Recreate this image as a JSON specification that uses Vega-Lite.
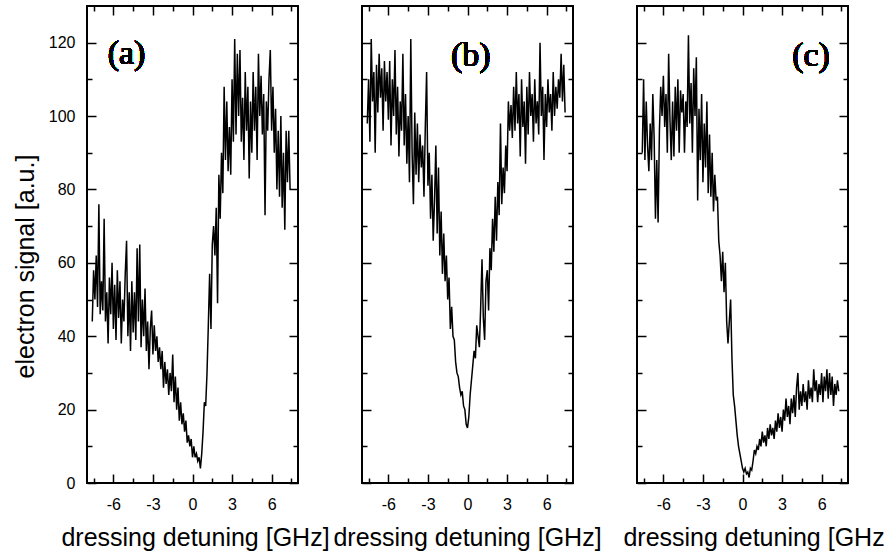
{
  "$schema": "https://vega.github.io/schema/vega-lite/v6.json",
  "autosize": {"type": "none"},
  "padding": {"left": 87, "top": 6, "right": 797, "bottom": 545},
  "background": "white",
  "config": {
    "view": {"stroke": "black", "strokeWidth": 2},
    "axis": {"domain": false, "grid": false, "tickColor": "black", "tickWidth": 1.5, "labelColor": "black", "labelFont": "Liberation Sans", "labelFontSize": 16, "titleColor": "black", "titleFont": "Liberation Sans", "titleFontSize": 25, "titleFontWeight": "normal", "labelOverlap": false, "labelFlush": false}
  },
  "spacing": 64,
  "bounds": "flush",
  "datasets": {
    "a": [
      {"x": -7.6, "y": 44}, {"x": -7.5, "y": 58}, {"x": -7.4, "y": 50}, {"x": -7.3, "y": 62}, {"x": -7.2, "y": 48}, {"x": -7.1, "y": 76}, {"x": -7.0, "y": 46}, {"x": -6.9, "y": 55}, {"x": -6.8, "y": 47}, {"x": -6.7, "y": 72},
      {"x": -6.6, "y": 44}, {"x": -6.5, "y": 52}, {"x": -6.4, "y": 38}, {"x": -6.3, "y": 56}, {"x": -6.2, "y": 46}, {"x": -6.1, "y": 60}, {"x": -6.0, "y": 42}, {"x": -5.9, "y": 54}, {"x": -5.8, "y": 39}, {"x": -5.7, "y": 58},
      {"x": -5.6, "y": 45}, {"x": -5.5, "y": 55}, {"x": -5.4, "y": 38}, {"x": -5.3, "y": 50}, {"x": -5.2, "y": 44}, {"x": -5.1, "y": 57}, {"x": -5.0, "y": 66}, {"x": -4.9, "y": 40}, {"x": -4.8, "y": 52}, {"x": -4.7, "y": 36},
      {"x": -4.6, "y": 55}, {"x": -4.5, "y": 41}, {"x": -4.4, "y": 52}, {"x": -4.3, "y": 39}, {"x": -4.2, "y": 64}, {"x": -4.1, "y": 44}, {"x": -4.0, "y": 65}, {"x": -3.9, "y": 37}, {"x": -3.8, "y": 50}, {"x": -3.7, "y": 40},
      {"x": -3.6, "y": 53}, {"x": -3.5, "y": 36}, {"x": -3.4, "y": 44}, {"x": -3.3, "y": 31}, {"x": -3.2, "y": 42}, {"x": -3.1, "y": 47}, {"x": -3.0, "y": 35}, {"x": -2.9, "y": 43}, {"x": -2.8, "y": 36}, {"x": -2.7, "y": 40},
      {"x": -2.6, "y": 33}, {"x": -2.5, "y": 37}, {"x": -2.4, "y": 31}, {"x": -2.3, "y": 36}, {"x": -2.2, "y": 26}, {"x": -2.1, "y": 33}, {"x": -2.0, "y": 27}, {"x": -1.9, "y": 31}, {"x": -1.8, "y": 24}, {"x": -1.7, "y": 30},
      {"x": -1.6, "y": 25}, {"x": -1.5, "y": 35}, {"x": -1.4, "y": 22}, {"x": -1.3, "y": 29}, {"x": -1.2, "y": 20}, {"x": -1.1, "y": 26}, {"x": -1.0, "y": 17}, {"x": -0.9, "y": 22}, {"x": -0.8, "y": 16}, {"x": -0.7, "y": 19},
      {"x": -0.6, "y": 14}, {"x": -0.5, "y": 17}, {"x": -0.4, "y": 11}, {"x": -0.3, "y": 13}, {"x": -0.2, "y": 10}, {"x": -0.1, "y": 12}, {"x": 0.0, "y": 7}, {"x": 0.1, "y": 10}, {"x": 0.2, "y": 7}, {"x": 0.3, "y": 8},
      {"x": 0.4, "y": 6}, {"x": 0.5, "y": 7}, {"x": 0.6, "y": 4}, {"x": 0.7, "y": 8}, {"x": 0.8, "y": 14}, {"x": 0.9, "y": 22}, {"x": 1.0, "y": 21}, {"x": 1.1, "y": 30}, {"x": 1.2, "y": 43}, {"x": 1.3, "y": 57},
      {"x": 1.4, "y": 42}, {"x": 1.5, "y": 65}, {"x": 1.6, "y": 70}, {"x": 1.7, "y": 62}, {"x": 1.8, "y": 75}, {"x": 1.9, "y": 49}, {"x": 2.0, "y": 84}, {"x": 2.1, "y": 72}, {"x": 2.2, "y": 90}, {"x": 2.3, "y": 79},
      {"x": 2.4, "y": 108}, {"x": 2.5, "y": 88}, {"x": 2.6, "y": 104}, {"x": 2.7, "y": 85}, {"x": 2.8, "y": 97}, {"x": 2.9, "y": 84}, {"x": 3.0, "y": 110}, {"x": 3.1, "y": 93}, {"x": 3.2, "y": 121}, {"x": 3.3, "y": 95},
      {"x": 3.4, "y": 117}, {"x": 3.5, "y": 100}, {"x": 3.6, "y": 118}, {"x": 3.7, "y": 93}, {"x": 3.8, "y": 105}, {"x": 3.9, "y": 88}, {"x": 4.0, "y": 112}, {"x": 4.1, "y": 96}, {"x": 4.2, "y": 108}, {"x": 4.3, "y": 83},
      {"x": 4.4, "y": 104}, {"x": 4.5, "y": 90}, {"x": 4.6, "y": 112}, {"x": 4.7, "y": 96}, {"x": 4.8, "y": 108}, {"x": 4.9, "y": 88}, {"x": 5.0, "y": 117}, {"x": 5.1, "y": 100}, {"x": 5.2, "y": 111}, {"x": 5.3, "y": 95},
      {"x": 5.4, "y": 106}, {"x": 5.5, "y": 73}, {"x": 5.6, "y": 104}, {"x": 5.7, "y": 96}, {"x": 5.8, "y": 110}, {"x": 5.9, "y": 118}, {"x": 6.0, "y": 96}, {"x": 6.1, "y": 108}, {"x": 6.2, "y": 90}, {"x": 6.3, "y": 102},
      {"x": 6.4, "y": 80}, {"x": 6.5, "y": 96}, {"x": 6.6, "y": 78}, {"x": 6.7, "y": 100}, {"x": 6.8, "y": 75}, {"x": 6.9, "y": 90}, {"x": 7.0, "y": 69}, {"x": 7.1, "y": 96}, {"x": 7.2, "y": 82}, {"x": 7.3, "y": 96},
      {"x": 7.4, "y": 80}
    ],
    "b": [
      {"x": -7.6, "y": 98}, {"x": -7.5, "y": 110}, {"x": -7.4, "y": 93}, {"x": -7.3, "y": 121}, {"x": -7.2, "y": 104}, {"x": -7.1, "y": 112}, {"x": -7.0, "y": 90}, {"x": -6.9, "y": 114}, {"x": -6.8, "y": 101}, {"x": -6.7, "y": 117},
      {"x": -6.6, "y": 105}, {"x": -6.5, "y": 113}, {"x": -6.4, "y": 96}, {"x": -6.3, "y": 115}, {"x": -6.2, "y": 104}, {"x": -6.1, "y": 112}, {"x": -6.0, "y": 99}, {"x": -5.9, "y": 115}, {"x": -5.8, "y": 92}, {"x": -5.7, "y": 110},
      {"x": -5.6, "y": 100}, {"x": -5.5, "y": 118}, {"x": -5.4, "y": 95}, {"x": -5.3, "y": 108}, {"x": -5.2, "y": 89}, {"x": -5.1, "y": 104}, {"x": -5.0, "y": 96}, {"x": -4.9, "y": 117}, {"x": -4.8, "y": 92}, {"x": -4.7, "y": 106},
      {"x": -4.6, "y": 87}, {"x": -4.5, "y": 100}, {"x": -4.4, "y": 82}, {"x": -4.3, "y": 121}, {"x": -4.2, "y": 90}, {"x": -4.1, "y": 76}, {"x": -4.0, "y": 101}, {"x": -3.9, "y": 84}, {"x": -3.8, "y": 98}, {"x": -3.7, "y": 82},
      {"x": -3.6, "y": 95}, {"x": -3.5, "y": 86}, {"x": -3.4, "y": 92}, {"x": -3.3, "y": 78}, {"x": -3.2, "y": 97}, {"x": -3.1, "y": 112}, {"x": -3.0, "y": 81}, {"x": -2.9, "y": 90}, {"x": -2.8, "y": 72}, {"x": -2.7, "y": 84},
      {"x": -2.6, "y": 66}, {"x": -2.5, "y": 77}, {"x": -2.4, "y": 92}, {"x": -2.3, "y": 68}, {"x": -2.2, "y": 86}, {"x": -2.1, "y": 62}, {"x": -2.0, "y": 74}, {"x": -1.9, "y": 57}, {"x": -1.8, "y": 68}, {"x": -1.7, "y": 55},
      {"x": -1.6, "y": 62}, {"x": -1.5, "y": 50}, {"x": -1.4, "y": 56}, {"x": -1.3, "y": 42}, {"x": -1.2, "y": 48}, {"x": -1.1, "y": 40}, {"x": -1.0, "y": 39}, {"x": -0.9, "y": 33}, {"x": -0.8, "y": 30}, {"x": -0.7, "y": 29},
      {"x": -0.6, "y": 26}, {"x": -0.5, "y": 24}, {"x": -0.4, "y": 25}, {"x": -0.3, "y": 21}, {"x": -0.2, "y": 20}, {"x": -0.1, "y": 16}, {"x": 0.0, "y": 15}, {"x": 0.1, "y": 18}, {"x": 0.2, "y": 24}, {"x": 0.3, "y": 28},
      {"x": 0.4, "y": 32}, {"x": 0.5, "y": 36}, {"x": 0.6, "y": 34}, {"x": 0.7, "y": 43}, {"x": 0.8, "y": 40}, {"x": 0.9, "y": 37}, {"x": 1.0, "y": 48}, {"x": 1.1, "y": 61}, {"x": 1.2, "y": 45}, {"x": 1.3, "y": 39},
      {"x": 1.4, "y": 55}, {"x": 1.5, "y": 58}, {"x": 1.6, "y": 47}, {"x": 1.7, "y": 64}, {"x": 1.8, "y": 58}, {"x": 1.9, "y": 72}, {"x": 2.0, "y": 63}, {"x": 2.1, "y": 78}, {"x": 2.2, "y": 66}, {"x": 2.3, "y": 82},
      {"x": 2.4, "y": 73}, {"x": 2.5, "y": 98}, {"x": 2.6, "y": 76}, {"x": 2.7, "y": 86}, {"x": 2.8, "y": 79}, {"x": 2.9, "y": 92}, {"x": 3.0, "y": 85}, {"x": 3.1, "y": 104}, {"x": 3.2, "y": 96}, {"x": 3.3, "y": 103},
      {"x": 3.4, "y": 94}, {"x": 3.5, "y": 108}, {"x": 3.6, "y": 96}, {"x": 3.7, "y": 112}, {"x": 3.8, "y": 98}, {"x": 3.9, "y": 106}, {"x": 4.0, "y": 89}, {"x": 4.1, "y": 110}, {"x": 4.2, "y": 97}, {"x": 4.3, "y": 104},
      {"x": 4.4, "y": 87}, {"x": 4.5, "y": 108}, {"x": 4.6, "y": 95}, {"x": 4.7, "y": 112}, {"x": 4.8, "y": 100}, {"x": 4.9, "y": 106}, {"x": 5.0, "y": 93}, {"x": 5.1, "y": 110}, {"x": 5.2, "y": 98}, {"x": 5.3, "y": 104},
      {"x": 5.4, "y": 95}, {"x": 5.5, "y": 120}, {"x": 5.6, "y": 100}, {"x": 5.7, "y": 108}, {"x": 5.8, "y": 88}, {"x": 5.9, "y": 106}, {"x": 6.0, "y": 97}, {"x": 6.1, "y": 110}, {"x": 6.2, "y": 101}, {"x": 6.3, "y": 106},
      {"x": 6.4, "y": 96}, {"x": 6.5, "y": 112}, {"x": 6.6, "y": 100}, {"x": 6.7, "y": 108}, {"x": 6.8, "y": 102}, {"x": 6.9, "y": 110}, {"x": 7.0, "y": 105}, {"x": 7.1, "y": 117}, {"x": 7.2, "y": 104}, {"x": 7.3, "y": 114},
      {"x": 7.4, "y": 101}
    ],
    "c": [
      {"x": -7.6, "y": 90}, {"x": -7.5, "y": 110}, {"x": -7.4, "y": 88}, {"x": -7.3, "y": 104}, {"x": -7.2, "y": 92}, {"x": -7.1, "y": 85}, {"x": -7.0, "y": 98}, {"x": -6.9, "y": 88}, {"x": -6.8, "y": 106}, {"x": -6.7, "y": 94},
      {"x": -6.6, "y": 72}, {"x": -6.5, "y": 88}, {"x": -6.4, "y": 71}, {"x": -6.3, "y": 96}, {"x": -6.2, "y": 108}, {"x": -6.1, "y": 100}, {"x": -6.0, "y": 111}, {"x": -5.9, "y": 97}, {"x": -5.8, "y": 106}, {"x": -5.7, "y": 90},
      {"x": -5.6, "y": 117}, {"x": -5.5, "y": 99}, {"x": -5.4, "y": 88}, {"x": -5.3, "y": 104}, {"x": -5.2, "y": 89}, {"x": -5.1, "y": 108}, {"x": -5.0, "y": 96}, {"x": -4.9, "y": 110}, {"x": -4.8, "y": 90}, {"x": -4.7, "y": 107},
      {"x": -4.6, "y": 101}, {"x": -4.5, "y": 106}, {"x": -4.4, "y": 90}, {"x": -4.3, "y": 104}, {"x": -4.2, "y": 97}, {"x": -4.1, "y": 122}, {"x": -4.0, "y": 98}, {"x": -3.9, "y": 109}, {"x": -3.8, "y": 90}, {"x": -3.7, "y": 113},
      {"x": -3.6, "y": 100}, {"x": -3.5, "y": 116}, {"x": -3.4, "y": 77}, {"x": -3.3, "y": 102}, {"x": -3.2, "y": 88}, {"x": -3.1, "y": 106}, {"x": -3.0, "y": 82}, {"x": -2.9, "y": 98}, {"x": -2.8, "y": 86}, {"x": -2.7, "y": 104},
      {"x": -2.6, "y": 79}, {"x": -2.5, "y": 95}, {"x": -2.4, "y": 78}, {"x": -2.3, "y": 90}, {"x": -2.2, "y": 74}, {"x": -2.1, "y": 84}, {"x": -2.0, "y": 77}, {"x": -1.9, "y": 78}, {"x": -1.8, "y": 66}, {"x": -1.7, "y": 62},
      {"x": -1.6, "y": 55}, {"x": -1.5, "y": 63}, {"x": -1.4, "y": 52}, {"x": -1.3, "y": 60}, {"x": -1.2, "y": 44}, {"x": -1.1, "y": 38}, {"x": -1.0, "y": 44}, {"x": -0.9, "y": 50}, {"x": -0.8, "y": 34}, {"x": -0.7, "y": 24},
      {"x": -0.6, "y": 21}, {"x": -0.5, "y": 17}, {"x": -0.4, "y": 13}, {"x": -0.3, "y": 10}, {"x": -0.2, "y": 8}, {"x": -0.1, "y": 6}, {"x": 0.0, "y": 4}, {"x": 0.1, "y": 3}, {"x": 0.2, "y": 4}, {"x": 0.3, "y": 2.5},
      {"x": 0.4, "y": 3}, {"x": 0.5, "y": 1.5}, {"x": 0.6, "y": 4}, {"x": 0.7, "y": 3.5}, {"x": 0.8, "y": 6}, {"x": 0.9, "y": 9}, {"x": 1.0, "y": 8}, {"x": 1.1, "y": 10}, {"x": 1.2, "y": 9}, {"x": 1.3, "y": 12},
      {"x": 1.4, "y": 10}, {"x": 1.5, "y": 14}, {"x": 1.6, "y": 11}, {"x": 1.7, "y": 13}, {"x": 1.8, "y": 10}, {"x": 1.9, "y": 15}, {"x": 2.0, "y": 12}, {"x": 2.1, "y": 16}, {"x": 2.2, "y": 13}, {"x": 2.3, "y": 15},
      {"x": 2.4, "y": 12}, {"x": 2.5, "y": 17}, {"x": 2.6, "y": 14}, {"x": 2.7, "y": 19}, {"x": 2.8, "y": 15}, {"x": 2.9, "y": 18}, {"x": 3.0, "y": 14}, {"x": 3.1, "y": 20}, {"x": 3.2, "y": 17}, {"x": 3.3, "y": 23},
      {"x": 3.4, "y": 18}, {"x": 3.5, "y": 21}, {"x": 3.6, "y": 16}, {"x": 3.7, "y": 23}, {"x": 3.8, "y": 19}, {"x": 3.9, "y": 24}, {"x": 4.0, "y": 18}, {"x": 4.1, "y": 26}, {"x": 4.2, "y": 30}, {"x": 4.3, "y": 20},
      {"x": 4.4, "y": 25}, {"x": 4.5, "y": 21}, {"x": 4.6, "y": 27}, {"x": 4.7, "y": 22}, {"x": 4.8, "y": 25}, {"x": 4.9, "y": 20}, {"x": 5.0, "y": 28}, {"x": 5.1, "y": 23}, {"x": 5.2, "y": 26}, {"x": 5.3, "y": 22},
      {"x": 5.4, "y": 31}, {"x": 5.5, "y": 25}, {"x": 5.6, "y": 28}, {"x": 5.7, "y": 22}, {"x": 5.8, "y": 27}, {"x": 5.9, "y": 24}, {"x": 6.0, "y": 30}, {"x": 6.1, "y": 22}, {"x": 6.2, "y": 29}, {"x": 6.3, "y": 25},
      {"x": 6.4, "y": 31}, {"x": 6.5, "y": 23}, {"x": 6.6, "y": 30}, {"x": 6.7, "y": 24}, {"x": 6.8, "y": 29}, {"x": 6.9, "y": 21}, {"x": 7.0, "y": 27}, {"x": 7.1, "y": 24}, {"x": 7.2, "y": 28}, {"x": 7.3, "y": 25}
    ]
  },
  "hconcat": [
    {
      "width": 211, "height": 477,
      "data": {"name": "a"},
      "resolve": {"axis": {"x": "independent", "y": "independent"}},
      "layer": [
        {
          "mark": {"type": "line", "color": "black", "strokeWidth": 1.5},
          "encoding": {
            "x": {"field": "x", "type": "quantitative", "scale": {"domain": [-8, 8], "nice": false, "zero": false},
              "axis": {"orient": "bottom", "values": [-7.5, -6, -4.5, -3, -1.5, 0, 1.5, 3, 4.5, 6, 7.5], "labelExpr": "datum.value % 3 === 0 ? toString(datum.value) : ''", "tickSize": {"condition": {"test": "datum.value % 3 === 0", "value": -9}, "value": -5}, "labelPadding": 22, "title": "dressing detuning [GHz]", "titleX": 108, "titleY": 62, "titleBaseline": "alphabetic", "titleAlign": "center"}},
            "y": {"field": "y", "type": "quantitative", "scale": {"domain": [0, 130], "nice": false},
              "axis": {"orient": "left", "values": [0, 10, 20, 30, 40, 50, 60, 70, 80, 90, 100, 110, 120], "labelExpr": "datum.value % 20 === 0 ? toString(datum.value) : ''", "tickSize": {"condition": {"test": "datum.value % 20 === 0", "value": -9}, "value": -5}, "labelPadding": 21, "title": "electron signal [a.u.]", "titleX": -54, "titleY": 260, "titleAngle": 270, "titleBaseline": "alphabetic", "titleAlign": "center"}}
          }
        },
        {
          "mark": {"type": "line", "opacity": 0},
          "encoding": {
            "x": {"field": "x", "type": "quantitative", "axis": {"orient": "top", "values": [-7.5, -6, -4.5, -3, -1.5, 0, 1.5, 3, 4.5, 6, 7.5], "labels": false, "title": null, "tickSize": {"condition": {"test": "datum.value % 3 === 0", "value": -9}, "value": -5}}},
            "y": {"field": "y", "type": "quantitative", "axis": {"orient": "right", "values": [0, 10, 20, 30, 40, 50, 60, 70, 80, 90, 100, 110, 120], "labels": false, "title": null, "tickSize": {"condition": {"test": "datum.value % 20 === 0", "value": -9}, "value": -5}}}
          }
        },
        {
          "mark": {"type": "text", "font": "Liberation Serif", "fontSize": 34, "fontWeight": "normal", "baseline": "middle", "align": "center", "fill": "black", "strokeWidth": 0},
          "encoding": {
            "x": {"datum": -5.0, "type": "quantitative", "axis": null},
            "y": {"datum": 117, "type": "quantitative", "axis": null},
            "text": {"value": "(a)"}
          }
        }
      ]
    },
    {
      "width": 211, "height": 477,
      "data": {"name": "b"},
      "resolve": {"axis": {"x": "independent", "y": "independent"}},
      "layer": [
        {
          "mark": {"type": "line", "color": "black", "strokeWidth": 1.5},
          "encoding": {
            "x": {"field": "x", "type": "quantitative", "scale": {"domain": [-8, 8], "nice": false, "zero": false},
              "axis": {"orient": "bottom", "values": [-7.5, -6, -4.5, -3, -1.5, 0, 1.5, 3, 4.5, 6, 7.5], "labelExpr": "datum.value % 3 === 0 ? toString(datum.value) : ''", "tickSize": {"condition": {"test": "datum.value % 3 === 0", "value": -9}, "value": -5}, "labelPadding": 22, "title": "dressing detuning [GHz]", "titleX": 105, "titleY": 62, "titleBaseline": "alphabetic", "titleAlign": "center"}},
            "y": {"field": "y", "type": "quantitative", "scale": {"domain": [0, 130], "nice": false},
              "axis": {"orient": "left", "values": [0, 10, 20, 30, 40, 50, 60, 70, 80, 90, 100, 110, 120], "labels": false, "title": null, "tickSize": {"condition": {"test": "datum.value % 20 === 0", "value": -9}, "value": -5}}}
          }
        },
        {
          "mark": {"type": "line", "opacity": 0},
          "encoding": {
            "x": {"field": "x", "type": "quantitative", "axis": {"orient": "top", "values": [-7.5, -6, -4.5, -3, -1.5, 0, 1.5, 3, 4.5, 6, 7.5], "labels": false, "title": null, "tickSize": {"condition": {"test": "datum.value % 3 === 0", "value": -9}, "value": -5}}},
            "y": {"field": "y", "type": "quantitative", "axis": {"orient": "right", "values": [0, 10, 20, 30, 40, 50, 60, 70, 80, 90, 100, 110, 120], "labels": false, "title": null, "tickSize": {"condition": {"test": "datum.value % 20 === 0", "value": -9}, "value": -5}}}
          }
        },
        {
          "mark": {"type": "text", "font": "Liberation Serif", "fontSize": 34, "fontWeight": "normal", "baseline": "middle", "align": "center", "fill": "black", "strokeWidth": 0},
          "encoding": {
            "x": {"datum": 0.25, "type": "quantitative", "axis": null},
            "y": {"datum": 116.5, "type": "quantitative", "axis": null},
            "text": {"value": "(b)"}
          }
        }
      ]
    },
    {
      "width": 211, "height": 477,
      "data": {"name": "c"},
      "resolve": {"axis": {"x": "independent", "y": "independent"}},
      "layer": [
        {
          "mark": {"type": "line", "color": "black", "strokeWidth": 1.5},
          "encoding": {
            "x": {"field": "x", "type": "quantitative", "scale": {"domain": [-8, 8], "nice": false, "zero": false},
              "axis": {"orient": "bottom", "values": [-7.5, -6, -4.5, -3, -1.5, 0, 1.5, 3, 4.5, 6, 7.5], "labelExpr": "datum.value % 3 === 0 ? toString(datum.value) : ''", "tickSize": {"condition": {"test": "datum.value % 3 === 0", "value": -9}, "value": -5}, "labelPadding": 22, "title": "dressing detuning [GHz]", "titleX": 120, "titleY": 62, "titleBaseline": "alphabetic", "titleAlign": "center"}},
            "y": {"field": "y", "type": "quantitative", "scale": {"domain": [0, 130], "nice": false},
              "axis": {"orient": "left", "values": [0, 10, 20, 30, 40, 50, 60, 70, 80, 90, 100, 110, 120], "labels": false, "title": null, "tickSize": {"condition": {"test": "datum.value % 20 === 0", "value": -9}, "value": -5}}}
          }
        },
        {
          "mark": {"type": "line", "opacity": 0},
          "encoding": {
            "x": {"field": "x", "type": "quantitative", "axis": {"orient": "top", "values": [-7.5, -6, -4.5, -3, -1.5, 0, 1.5, 3, 4.5, 6, 7.5], "labels": false, "title": null, "tickSize": {"condition": {"test": "datum.value % 3 === 0", "value": -9}, "value": -5}}},
            "y": {"field": "y", "type": "quantitative", "axis": {"orient": "right", "values": [0, 10, 20, 30, 40, 50, 60, 70, 80, 90, 100, 110, 120], "labels": false, "title": null, "tickSize": {"condition": {"test": "datum.value % 20 === 0", "value": -9}, "value": -5}}}
          }
        },
        {
          "mark": {"type": "text", "font": "Liberation Serif", "fontSize": 34, "fontWeight": "normal", "baseline": "middle", "align": "center", "fill": "black", "strokeWidth": 0},
          "encoding": {
            "x": {"datum": 5.2, "type": "quantitative", "axis": null},
            "y": {"datum": 116.5, "type": "quantitative", "axis": null},
            "text": {"value": "(c)"}
          }
        }
      ]
    }
  ]
}
